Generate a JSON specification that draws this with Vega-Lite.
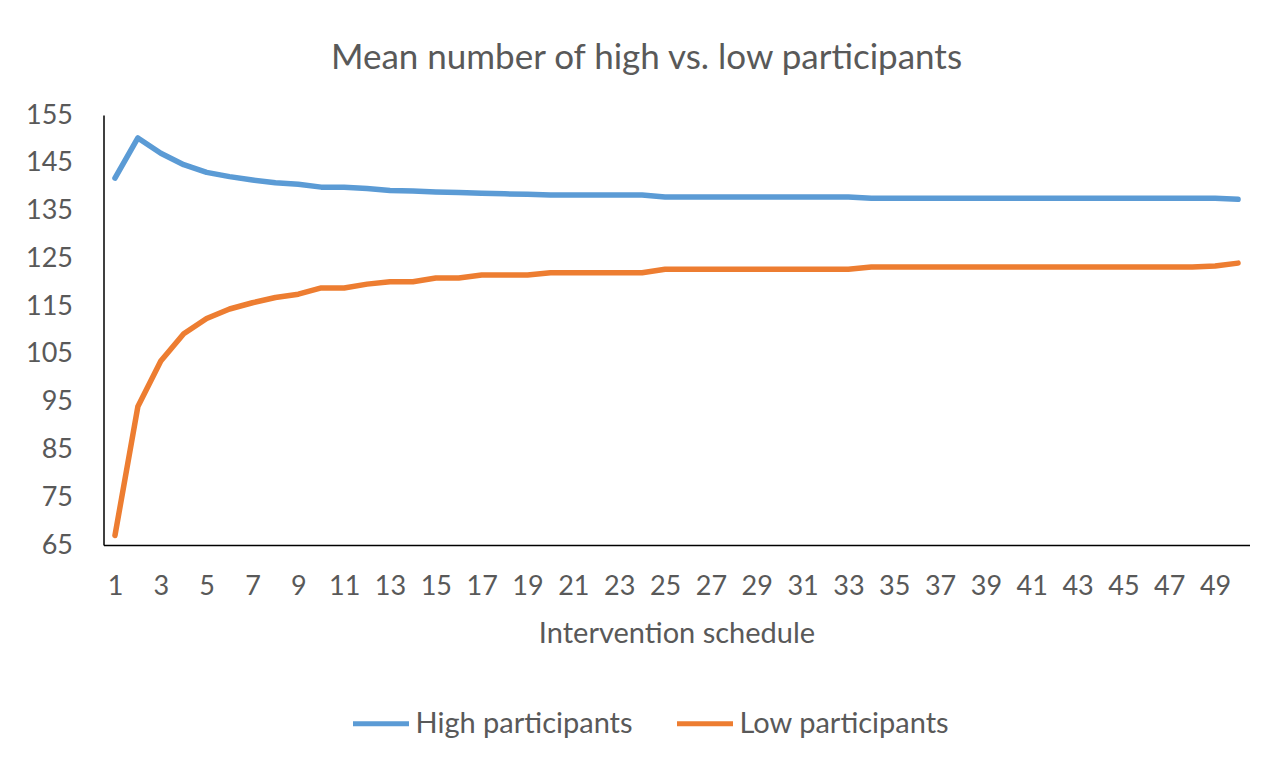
{
  "$schema": "https://vega.github.io/schema/vega-lite/v6.json",
  "autosize": {"type": "none"},
  "width": 1146,
  "height": 430,
  "padding": {"left": 103.5, "top": 115, "right": 36.5, "bottom": 227},
  "background": "white",
  "title": {
    "text": "Mean number of high vs. low participants",
    "font": "Lato", "fontSize": 35, "fontWeight": "normal", "color": "#595959",
    "anchor": "middle", "frame": "group", "dx": -30, "offset": 25
  },
  "data": {"values": [
    {"s":1,"series":"High participants","v":141.8},
    {"s":2,"series":"High participants","v":150.2},
    {"s":3,"series":"High participants","v":147.0},
    {"s":4,"series":"High participants","v":144.6},
    {"s":5,"series":"High participants","v":143.0},
    {"s":6,"series":"High participants","v":142.1},
    {"s":7,"series":"High participants","v":141.4},
    {"s":8,"series":"High participants","v":140.8},
    {"s":9,"series":"High participants","v":140.5},
    {"s":10,"series":"High participants","v":139.9},
    {"s":11,"series":"High participants","v":139.9},
    {"s":12,"series":"High participants","v":139.6},
    {"s":13,"series":"High participants","v":139.2},
    {"s":14,"series":"High participants","v":139.1},
    {"s":15,"series":"High participants","v":138.9},
    {"s":16,"series":"High participants","v":138.8},
    {"s":17,"series":"High participants","v":138.6},
    {"s":18,"series":"High participants","v":138.5},
    {"s":19,"series":"High participants","v":138.4},
    {"s":20,"series":"High participants","v":138.25},
    {"s":21,"series":"High participants","v":138.25},
    {"s":22,"series":"High participants","v":138.25},
    {"s":23,"series":"High participants","v":138.25},
    {"s":24,"series":"High participants","v":138.25},
    {"s":25,"series":"High participants","v":137.85},
    {"s":26,"series":"High participants","v":137.85},
    {"s":27,"series":"High participants","v":137.85},
    {"s":28,"series":"High participants","v":137.85},
    {"s":29,"series":"High participants","v":137.85},
    {"s":30,"series":"High participants","v":137.85},
    {"s":31,"series":"High participants","v":137.85},
    {"s":32,"series":"High participants","v":137.85},
    {"s":33,"series":"High participants","v":137.85},
    {"s":34,"series":"High participants","v":137.6},
    {"s":35,"series":"High participants","v":137.6},
    {"s":36,"series":"High participants","v":137.6},
    {"s":37,"series":"High participants","v":137.6},
    {"s":38,"series":"High participants","v":137.6},
    {"s":39,"series":"High participants","v":137.6},
    {"s":40,"series":"High participants","v":137.6},
    {"s":41,"series":"High participants","v":137.6},
    {"s":42,"series":"High participants","v":137.6},
    {"s":43,"series":"High participants","v":137.6},
    {"s":44,"series":"High participants","v":137.6},
    {"s":45,"series":"High participants","v":137.6},
    {"s":46,"series":"High participants","v":137.6},
    {"s":47,"series":"High participants","v":137.6},
    {"s":48,"series":"High participants","v":137.6},
    {"s":49,"series":"High participants","v":137.55},
    {"s":50,"series":"High participants","v":137.35},
    {"s":1,"series":"Low participants","v":67.0},
    {"s":2,"series":"Low participants","v":94.0},
    {"s":3,"series":"Low participants","v":103.5},
    {"s":4,"series":"Low participants","v":109.2},
    {"s":5,"series":"Low participants","v":112.4},
    {"s":6,"series":"Low participants","v":114.4},
    {"s":7,"series":"Low participants","v":115.7},
    {"s":8,"series":"Low participants","v":116.8},
    {"s":9,"series":"Low participants","v":117.5},
    {"s":10,"series":"Low participants","v":118.8},
    {"s":11,"series":"Low participants","v":118.8},
    {"s":12,"series":"Low participants","v":119.6},
    {"s":13,"series":"Low participants","v":120.1},
    {"s":14,"series":"Low participants","v":120.1},
    {"s":15,"series":"Low participants","v":120.9},
    {"s":16,"series":"Low participants","v":120.9},
    {"s":17,"series":"Low participants","v":121.5},
    {"s":18,"series":"Low participants","v":121.5},
    {"s":19,"series":"Low participants","v":121.5},
    {"s":20,"series":"Low participants","v":122.0},
    {"s":21,"series":"Low participants","v":122.0},
    {"s":22,"series":"Low participants","v":122.0},
    {"s":23,"series":"Low participants","v":122.0},
    {"s":24,"series":"Low participants","v":122.0},
    {"s":25,"series":"Low participants","v":122.7},
    {"s":26,"series":"Low participants","v":122.7},
    {"s":27,"series":"Low participants","v":122.7},
    {"s":28,"series":"Low participants","v":122.7},
    {"s":29,"series":"Low participants","v":122.7},
    {"s":30,"series":"Low participants","v":122.7},
    {"s":31,"series":"Low participants","v":122.7},
    {"s":32,"series":"Low participants","v":122.7},
    {"s":33,"series":"Low participants","v":122.7},
    {"s":34,"series":"Low participants","v":123.2},
    {"s":35,"series":"Low participants","v":123.2},
    {"s":36,"series":"Low participants","v":123.2},
    {"s":37,"series":"Low participants","v":123.2},
    {"s":38,"series":"Low participants","v":123.2},
    {"s":39,"series":"Low participants","v":123.2},
    {"s":40,"series":"Low participants","v":123.2},
    {"s":41,"series":"Low participants","v":123.2},
    {"s":42,"series":"Low participants","v":123.2},
    {"s":43,"series":"Low participants","v":123.2},
    {"s":44,"series":"Low participants","v":123.2},
    {"s":45,"series":"Low participants","v":123.2},
    {"s":46,"series":"Low participants","v":123.2},
    {"s":47,"series":"Low participants","v":123.2},
    {"s":48,"series":"Low participants","v":123.2},
    {"s":49,"series":"Low participants","v":123.4},
    {"s":50,"series":"Low participants","v":124.0}
  ]},
  "mark": {"type": "line", "strokeWidth": 5.5, "strokeCap": "round", "strokeJoin": "round"},
  "encoding": {
    "x": {
      "field": "s", "type": "ordinal",
      "scale": {"type": "point", "padding": 0.5},
      "axis": {
        "values": [1,3,5,7,9,11,13,15,17,19,21,23,25,27,29,31,33,35,37,39,41,43,45,47,49],
        "labelAngle": 0, "ticks": false, "grid": false,
        "domainColor": "#000000", "domainWidth": 1.5,
        "labelFont": "Lato", "labelFontSize": 27, "labelColor": "#595959", "labelPadding": 28,
        "title": "Intervention schedule", "titleFont": "Lato", "titleFontSize": 29,
        "titleFontWeight": "normal", "titleColor": "#595959", "titlePadding": 20
      }
    },
    "y": {
      "field": "v", "type": "quantitative",
      "scale": {"domain": [65, 155], "nice": false, "zero": false},
      "axis": {
        "values": [65,75,85,95,105,115,125,135,145,155],
        "ticks": false, "grid": false,
        "domainColor": "#000000", "domainWidth": 1.5,
        "labelFont": "Lato", "labelFontSize": 27, "labelColor": "#595959", "labelPadding": 31,
        "title": null
      }
    },
    "color": {
      "field": "series", "type": "nominal",
      "scale": {"domain": ["High participants", "Low participants"], "range": ["#5B9BD5", "#ED7D31"]},
      "legend": {
        "title": null, "orient": "none", "direction": "horizontal",
        "legendX": 247, "legendY": 578,
        "symbolType": "stroke", "symbolSize": 3136, "symbolStrokeWidth": 5,
        "labelFont": "Lato", "labelFontSize": 29, "labelColor": "#595959", "labelLimit": 0,
        "labelOffset": 4, "columnPadding": 33, "padding": 0, "symbolOffset": 0
      }
    }
  },
  "config": {"view": {"stroke": null}}
}
